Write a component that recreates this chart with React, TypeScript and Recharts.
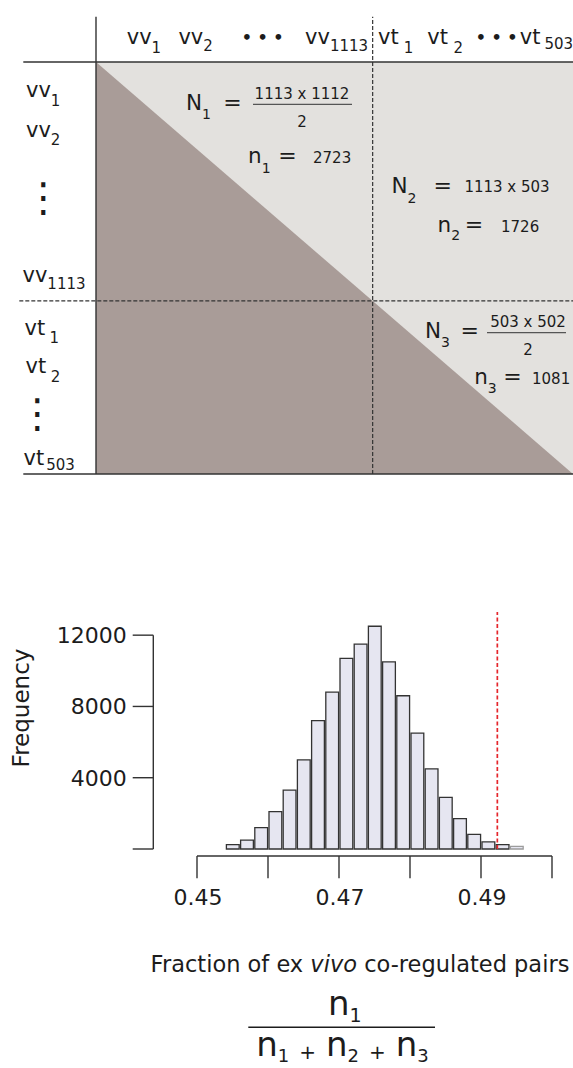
import React from 'react';
import { ComposedChart, Area, Bar, Cell, XAxis, YAxis, ReferenceLine, Label } from 'recharts';

const FONT = '"DejaVu Sans", Verdana, sans-serif';
const INK = '#1c1c1c';
const LINE = '#333';

// pair matrix: two gene blocks, the upper triangle holds the counted pairs
const blockNames = ['vv', 'vt'];
const blockSizes = [1113, 503];
const edgePos = [0, 1];
const upperEdge = [1, 1];
const lowerEdge = [1, 0];
const pairTotals = [
  { sym: 'N', sub: '1', num: '1113 x 1112', den: '2' },
  { sym: 'N', sub: '2', num: '1113 x 503', den: '' },
  { sym: 'N', sub: '3', num: '503 x 502', den: '2' },
];
const pairHits = [
  { sym: 'n', sub: '1', value: '2723' },
  { sym: 'n', sub: '2', value: '1726' },
  { sym: 'n', sub: '3', value: '1081' },
];

// permutation histogram
const binMid = [0.455, 0.457, 0.459, 0.461, 0.463, 0.465, 0.467, 0.469, 0.471, 0.473, 0.475,
  0.477, 0.479, 0.481, 0.483, 0.485, 0.487, 0.489, 0.491, 0.493, 0.495];
const freq = [250, 500, 1200, 2100, 3300, 5000, 7200, 8800, 10700, 11500, 12500,
  10500, 8600, 6500, 4500, 2900, 1700, 820, 400, 250, 150];
const xTicks = [0.45, 0.46, 0.47, 0.48, 0.49, 0.5];
const xTickLabels = ['0.45', '', '0.47', '', '0.49', ''];
const yTicks = [0, 4000, 8000, 12000];
const yTickLabels = ['', '4000', '8000', '12000'];
const observedFraction = 0.4923;

// --- layout of the matrix (schematic, not to scale) ---
const SPLIT = 0.58;
const M_LEFT = 96, M_TOP = 62, M_W = 477, M_H = 412;
const colAt = [0.0644, 0.1727, 0.3055, 0.4382, 0.5912, 0.6946, 0.796, 0.8883];
const colSubDx = [0, 0, 0, 0, 5, 5.5, 0, 4];
const colSubDy = [9, 7, 0, 7, 8.4, 8.4, 0, 5];
const rowAt = [0.9158, 0.8187, 0.6687, 0.4667, 0.3374, 0.2444, 0.1444, 0.0218];
const rowX = [26, 26, 43.3, 22.5, 24.5, 25.5, 37.3, 23.5];
const rowSubDx = [0, 0, 0, 0, 4.3, 4.7, 0, 2];
const rowSubDy = [9.3, 8.3, 0, 7.6, 7.7, 8.7, 0, 5];

const totalsAt = [
  { sx: 186, sy: 110, subDy: 9, eqX: 232.5, numX: 302, numY: 99, lineY: 104.3, lineX: [253, 352], denY: 126.7 },
  { sx: 391.5, sy: 193.3, subDy: 10, eqX: 442.7, numX: 507, numY: 191.7, lineY: 0, lineX: [0, 0], denY: 0 },
  { sx: 425, sy: 337.7, subDy: 9, eqX: 469.7, numX: 528, numY: 327.3, lineY: 332.7, lineX: [487, 566], denY: 355 },
];
const hitsAt = [
  { sx: 248, sy: 163.3, subDy: 9.7, eqX: 287.5, valX: 313 },
  { sx: 437.5, sy: 231.7, subDy: 8.3, eqX: 474, valX: 501 },
  { sx: 474.2, sy: 384.3, subDy: 9, eqX: 512.5, valX: 532 },
];

const blockLabels = blockNames.flatMap((b, i) => [[b, '1'], [b, '2'], ['dots'], [b, String(blockSizes[i])]]);
const matrixData = edgePos.map((p, i) => ({ pos: p, upper: upperEdge[i], lower: lowerEdge[i] }));

function ColTick(props: any) {
  const { x, y, index } = props;
  const [base, sub] = blockLabels[index];
  if (base === 'dots') {
    return <text x={x} y={y - 19.5} fontFamily={FONT} fontSize={16} fontWeight="bold" fill={INK}>• • •</text>;
  }
  return (
    <text x={x} y={y - 17.7} fontFamily={FONT} fontSize={21} fill={INK}>
      {base}
      <tspan dx={colSubDx[index]} dy={colSubDy[index]} fontSize={15}>{sub}</tspan>
    </text>
  );
}

function RowTick(props: any) {
  const { y, index } = props;
  const [base, sub] = blockLabels[index];
  const x = rowX[index];
  if (base === 'dots') {
    return (
      <text x={x} y={y + 12.5} fontFamily={FONT} fontSize={40} fill={INK} textAnchor="middle">⋮</text>
    );
  }
  return (
    <text x={x} y={y} fontFamily={FONT} fontSize={21} fill={INK}>
      {base}
      <tspan dx={rowSubDx[index]} dy={rowSubDy[index]} fontSize={15}>{sub}</tspan>
    </text>
  );
}

function Annotations() {
  return (
    <svg width={573} height={480} style={{ position: 'absolute', left: 0, top: 0, pointerEvents: 'none' }}
      fontFamily={FONT} fill={INK}>
      {pairTotals.map((t, i) => {
        const a = totalsAt[i];
        return (
          <g key={`t${i}`}>
            <text x={a.sx} y={a.sy} fontSize={21.5}>{t.sym}<tspan dy={a.subDy} fontSize={14}>{t.sub}</tspan></text>
            <text x={a.eqX} y={a.sy} fontSize={22} textAnchor="middle">=</text>
            <text x={a.numX} y={a.numY} fontSize={15} textAnchor="middle">{t.num}</text>
            {t.den && <line x1={a.lineX[0]} x2={a.lineX[1]} y1={a.lineY} y2={a.lineY} stroke="#555" strokeWidth={1.3} />}
            {t.den && <text x={a.numX} y={a.denY} fontSize={15} textAnchor="middle">{t.den}</text>}
          </g>
        );
      })}
      {pairHits.map((h, i) => {
        const a = hitsAt[i];
        return (
          <g key={`h${i}`}>
            <text x={a.sx} y={a.sy} fontSize={21.5}>{h.sym}<tspan dy={a.subDy} fontSize={14}>{h.sub}</tspan></text>
            <text x={a.eqX} y={a.sy} fontSize={22} textAnchor="middle">=</text>
            <text x={a.valX} y={a.sy} fontSize={15}>{h.value}</text>
          </g>
        );
      })}
    </svg>
  );
}

function PairMatrix() {
  const xl = (px: number) => (px - M_LEFT) / M_W;
  const yt = 1 + (M_TOP - 16.7) / M_H;
  const solid = { stroke: LINE, strokeWidth: 1.4, ifOverflow: 'visible' as const };
  const dashed = { stroke: LINE, strokeWidth: 1.2, strokeDasharray: '4 2', ifOverflow: 'visible' as const };
  return (
    <div style={{ position: 'absolute', left: 0, top: 0 }}>
      <ComposedChart width={573} height={480} data={matrixData} margin={{ top: 0, right: 0, bottom: 6, left: 0 }}>
        <XAxis orientation="top" type="number" dataKey="pos" domain={[0, 1]} ticks={colAt} interval={0}
          height={M_TOP} tickSize={0} tickMargin={0} axisLine={false} tick={(p: any) => <ColTick {...p} />} />
        <YAxis type="number" domain={[0, 1]} ticks={rowAt} interval={0} width={M_LEFT}
          tickSize={0} tickMargin={0} axisLine={false} tick={(p: any) => <RowTick {...p} />} />
        <Area type="linear" dataKey="upper" fill="#e3e1de" fillOpacity={1} stroke="none" dot={false} activeDot={false} isAnimationActive={false} />
        <Area type="linear" dataKey="lower" fill="#a99c98" fillOpacity={1} stroke="none" dot={false} activeDot={false} isAnimationActive={false} />
        <ReferenceLine segment={[{ x: SPLIT, y: 0 }, { x: SPLIT, y: yt }]} {...dashed} />
        <ReferenceLine segment={[{ x: xl(19.3), y: 1 - SPLIT }, { x: 1, y: 1 - SPLIT }]} {...dashed} />
        <ReferenceLine segment={[{ x: 0, y: 0 }, { x: 0, y: yt }]} {...solid} />
        <ReferenceLine segment={[{ x: xl(23.3), y: 1 }, { x: 1, y: 1 }]} {...solid} />
        <ReferenceLine segment={[{ x: xl(23.3), y: 0 }, { x: 1, y: 0 }]} {...solid} />
      </ComposedChart>
      <Annotations />
    </div>
  );
}

// --- histogram ---
const H_TOP = 580;
const H_W = 573, H_H = 488;
const PLOT_L = 197, PLOT_R = 21, PLOT_T = 32, X_AXIS_H = 219;
const Y_MAX = 13300;
const plotW = H_W - PLOT_L - PLOT_R;
const plotH = H_H - PLOT_T - X_AXIS_H;
const barW = plotW * 0.002 / (xTicks[xTicks.length - 1] - xTicks[0]);
const histData = binMid.map((x, i) => ({ x, freq: freq[i] }));

function XTick(props: any) {
  const { x, y, index } = props;
  return (
    <g>
      <line x1={x} x2={x} y1={y + 7} y2={y + 29.3} stroke={LINE} strokeWidth={1.4} />
      <text x={x + 1} y={y + 56} textAnchor="middle" fontFamily={FONT} fontSize={22} fill={INK}>{xTickLabels[index]}</text>
    </g>
  );
}

function YTick(props: any) {
  const { x, y, index } = props;
  return (
    <g>
      <line x1={x - 64.3} x2={x - 43.7} y1={y} y2={y} stroke={LINE} strokeWidth={1.4} />
      <text x={x - 70.3} y={y + 8} textAnchor="end" fontFamily={FONT} fontSize={22} fill={INK}>{yTickLabels[index]}</text>
    </g>
  );
}

function XTitle() {
  const b = 1056 - H_TOP;
  return (
    <g fontFamily={FONT} fill={INK}>
      <text x={360} y={971.7 - H_TOP} textAnchor="middle" fontSize={22.5}>
        Fraction of ex <tspan fontStyle="italic">vivo</tspan> co-regulated pairs
      </text>
      <text x={328} y={1015 - H_TOP} fontSize={34}>n<tspan dy={7} fontSize={19}>1</tspan></text>
      <line x1={248.3} x2={435} y1={1027.3 - H_TOP} y2={1027.3 - H_TOP} stroke={INK} strokeWidth={1.6} />
      <text x={342.5} y={b} textAnchor="middle" fontSize={34}>
        n<tspan dy={6} fontSize={18}>1</tspan>
        <tspan dx={10} dy={-3} fontSize={20}>+</tspan>
        <tspan dx={10} dy={-3} fontSize={34}>n</tspan><tspan dy={6} fontSize={18}>2</tspan>
        <tspan dx={10} dy={-3} fontSize={20}>+</tspan>
        <tspan dx={10} dy={-3} fontSize={34}>n</tspan><tspan dy={6} fontSize={18}>3</tspan>
      </text>
    </g>
  );
}

function Histogram() {
  const pxToY = Y_MAX / plotH;
  const yAxisX = xTicks[0] - (43.7 / plotW) * (xTicks[xTicks.length - 1] - xTicks[0]);
  return (
    <div style={{ position: 'absolute', left: 0, top: H_TOP }}>
      <ComposedChart width={H_W} height={H_H} data={histData}
        margin={{ top: PLOT_T, right: PLOT_R, bottom: 0, left: 0 }}>
        <XAxis type="number" dataKey="x" domain={[0.45, 0.5]} ticks={xTicks} interval={0}
          height={X_AXIS_H} tickSize={0} tickMargin={0} axisLine={false} tick={(p: any) => <XTick {...p} />}>
          <Label content={() => <XTitle />} />
        </XAxis>
        <YAxis type="number" domain={[0, Y_MAX]} ticks={yTicks} interval={0} width={PLOT_L}
          tickSize={0} tickMargin={0} axisLine={false} tick={(p: any) => <YTick {...p} />}>
          <Label content={() => (
            <text transform={`translate(28.5, ${708 - H_TOP}) rotate(-90)`} textAnchor="middle"
              fontFamily={FONT} fontSize={23} fill={INK}>Frequency</text>
          )} />
        </YAxis>
        <Bar dataKey="freq" barSize={barW} fill="#e6e6f1" stroke={LINE} strokeWidth={1.3} isAnimationActive={false}>
          {freq.map((_, i) => <Cell key={i} stroke={i === freq.length - 1 ? '#9c9c9c' : LINE} />)}
        </Bar>
        <ReferenceLine x={observedFraction} stroke="#e5262c" strokeWidth={1.7} strokeDasharray="4 2.5" />
        <ReferenceLine segment={[{ x: yAxisX, y: 0 }, { x: yAxisX, y: yTicks[yTicks.length - 1] }]}
          stroke={LINE} strokeWidth={1.4} ifOverflow="visible" />
        <ReferenceLine segment={[{ x: xTicks[0], y: -7 * pxToY }, { x: xTicks[xTicks.length - 1], y: -7 * pxToY }]}
          stroke={LINE} strokeWidth={1.4} ifOverflow="visible" />
      </ComposedChart>
    </div>
  );
}

export default function App() {
  return (
    <div style={{ position: 'absolute', left: 0, top: 0, width: 573, height: 1068, background: '#fff', overflow: 'hidden' }}>
      <PairMatrix />
      <Histogram />
    </div>
  );
}
